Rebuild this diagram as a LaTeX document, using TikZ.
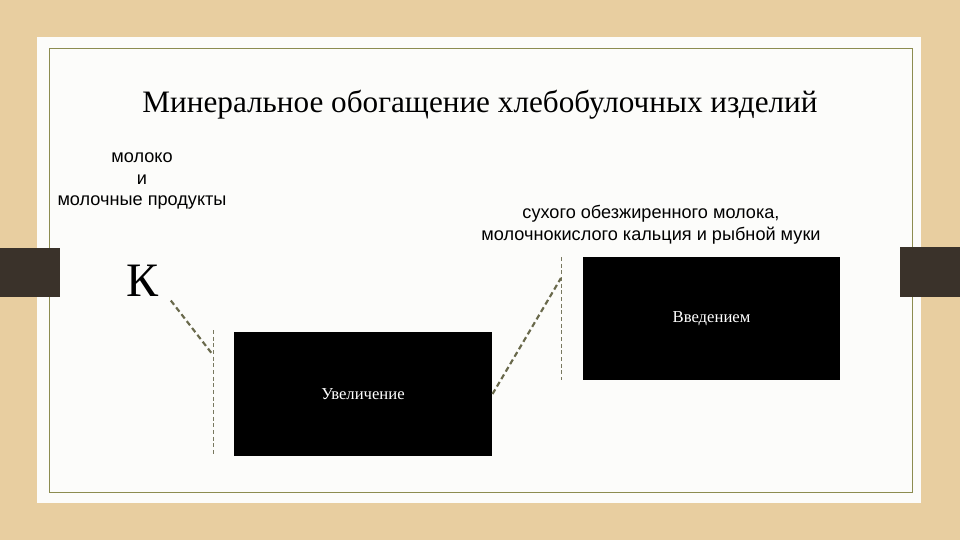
\documentclass[tikz,border=0pt]{standalone}
\usepackage{fontspec}
\setmainfont{Liberation Serif}
\newfontfamily\sansfont{Liberation Sans}
\begin{document}
\tikzset{every picture/.style={line width=0.75pt}}
\tikzset{
  dashlink/.style={color={rgb, 255:red, 105; green, 105; blue, 75 }, line width=1.6, dash pattern=on 4pt off 2.5pt},
  guideline/.style={color={rgb, 255:red, 120; green, 120; blue, 95 }, line width=0.5, dash pattern=on 3pt off 2pt},
  blackbox/.style={fill=black, draw=none, inner sep=0pt, text=white, font=\fontsize{12.5}{14}\selectfont},
  sanstext/.style={inner sep=0.75pt, align=center, font=\sansfont\fontsize{13.6}{16.2}\selectfont},
}
\begin{tikzpicture}[x=0.75pt,y=0.75pt,yscale=-1,xscale=1]
\useasboundingbox (0,0) rectangle (960,540);

%Shape: Background
\fill [color={rgb, 255:red, 232; green, 206; blue, 160 }] (0,0) rectangle (960,540) ;
%Shape: Card
\fill [color={rgb, 255:red, 252; green, 252; blue, 250 }] (37,37) rectangle (921,503) ;
\draw [color={rgb, 255:red, 140; green, 140; blue, 80 }, line width=0.6] (49,48) rectangle (912,492) ;
%Shape: Tabs
\fill [color={rgb, 255:red, 58; green, 50; blue, 42 }] (0,248) rectangle (60,297) ;
\fill [color={rgb, 255:red, 58; green, 50; blue, 42 }] (900,247) rectangle (960,297) ;

% Text Node
\node [inner sep=0.75pt, font=\fontsize{23.4}{28}\selectfont] (title) at (480,105) {Минеральное обогащение хлебобулочных изделий};
% Text Node
\node [sanstext] (milk) at (142,181) {молоко\\и\\молочные продукты};
% Text Node
\node [sanstext] (powder) at (651,225) {сухого обезжиренного молока,\\молочнокислого кальция и рыбной муки};
% Text Node
\node [inner sep=1pt, font=\fontsize{36}{36}\selectfont] (k) at (143,281) {К};

%Shape: Rectangle
\node [blackbox, minimum width=193.5pt, minimum height=93pt] (increase) at (363,394) {Увеличение};
%Shape: Rectangle
\node [blackbox, minimum width=192.75pt, minimum height=92.25pt] (intro) at (711.5,318.5) {Введением};

% guide lines
\coordinate (gAtop) at (213,330);
\coordinate (gAbot) at (213,455);
\coordinate (gAhit) at (213,355);
\coordinate (gBtop) at (561,257);
\coordinate (gBbot) at (561,380);
\coordinate (gBhit) at (561,278);
\draw [guideline] (gAtop) -- (gAbot) ;
\draw [guideline] (gBtop) -- (gBbot) ;

%Straight Lines
\draw [dashlink] ([shift={(10,2)}]k.south east) -- (gAhit) ;
\draw [dashlink] (increase.east) -- (gBhit) ;

\end{tikzpicture}
\end{document}
